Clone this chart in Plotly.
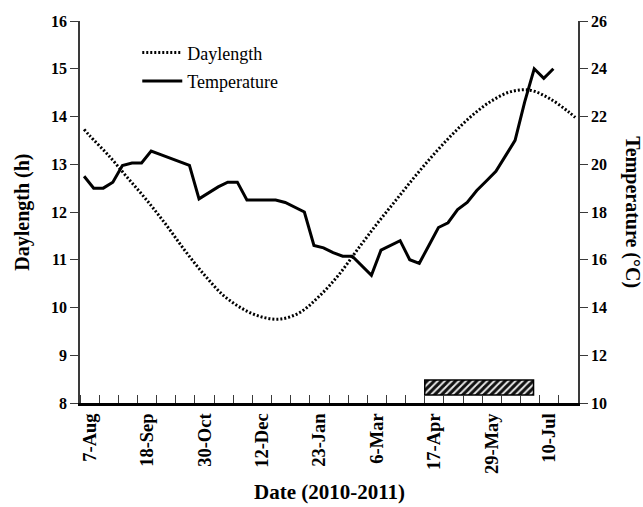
import plotly.graph_objects as go
import pandas as pd

# ---------------- data ----------------
origin = pd.Timestamp("2010-08-07")

tick_labels = ["7-Aug", "18-Sep", "30-Oct", "12-Dec", "23-Jan", "6-Mar", "17-Apr", "29-May", "10-Jul"]
tick_days = [0, 42, 84, 126, 168, 210, 252, 294, 336]

# weekly temperature (deg C)
temp_dates = pd.date_range("2010-08-03", periods=50, freq="7D")
temperature = [19.5, 19.0, 19.0, 19.25, 19.95, 20.05, 20.05, 20.55, 20.4, 20.25,
               20.1, 19.95, 18.55, 18.8, 19.05, 19.25, 19.25, 18.5, 18.5, 18.5,
               18.5, 18.4, 18.2, 18.0, 16.6, 16.5, 16.3, 16.15, 16.15, 15.75,
               15.35, 16.4, 16.6, 16.8, 16.0, 15.85, 16.6, 17.35, 17.55, 18.1,
               18.4, 18.9, 19.3, 19.7, 20.35, 21.0, 22.6, 24.0, 23.6, 24.0]

# daylength (h)
day_dates = ([pd.Timestamp("2010-08-03")] + list(pd.date_range("2010-08-07", periods=26, freq="14D"))
             + [pd.Timestamp("2011-07-28")])
daylength = [13.73, 13.6, 13.18, 12.71, 12.24, 11.73, 11.18, 10.68, 10.25, 9.97,
             9.80, 9.76, 9.90, 10.24, 10.68, 11.22, 11.75, 12.25, 12.75, 13.22,
             13.65, 14.03, 14.33, 14.52, 14.55, 14.38, 14.10, 13.98]

# hatched period (dates)
hatch_start = pd.Timestamp("2011-04-09")
hatch_end = pd.Timestamp("2011-06-27 12:00")
hatch_low, hatch_high = 8.17, 8.48

# ---------------- helpers ----------------
def to_days(ts):
    return [(t - origin) / pd.Timedelta(days=1) for t in ts]

temp_x = to_days(temp_dates)
day_x = to_days(day_dates)
hs, he = to_days([hatch_start, hatch_end])

FONT = "Liberation Serif"
fig = go.Figure()

fig.add_trace(go.Scatter(
    x=day_x, y=daylength, name="Daylength", mode="lines", line_shape="spline",
    line=dict(color="black", width=3, dash="2px,2px"), yaxis="y", legendgroup="a"))

fig.add_trace(go.Scatter(
    x=temp_x, y=temperature, name="Temperature", mode="lines",
    line=dict(color="black", width=3), yaxis="y2", legendgroup="b"))

fig.add_trace(go.Bar(
    x=[(hs + he) / 2], y=[hatch_high - hatch_low], base=[hatch_low], width=[he - hs],
    yaxis="y", showlegend=False,
    marker=dict(color="#555555", line=dict(color="black", width=1.5),
                pattern=dict(shape="/", fgcolor="#111111", bgcolor="#e8e8e8", size=5, solidity=0.6,
                             fillmode="replace"))))

axis_line = "#3a3a3a"
tickfont = dict(family=FONT, size=16, color="black", weight="bold")

fig.update_layout(
    width=643, height=507,
    margin=dict(l=80, r=65, t=21, b=104),
    plot_bgcolor="white", paper_bgcolor="white",
    showlegend=True,
    legend=dict(x=0.115, y=0.965, xanchor="left", yanchor="top",
                font=dict(family=FONT, size=18, color="black"),
                bgcolor="rgba(0,0,0,0)", tracegroupgap=2, itemwidth=40),
    xaxis=dict(range=[-7, 357], tickmode="array", tickvals=tick_days, ticktext=tick_labels,
               tickangle=-90, ticks="", showgrid=False, zeroline=False,
               showline=True, linecolor="black", linewidth=3,
               tickfont=dict(family=FONT, size=18.5, color="black", weight="bold"),
               minor=dict(ticks="inside", tickmode="linear", tick0=-7, dtick=14,
                          ticklen=8, tickwidth=1.3, tickcolor=axis_line, showgrid=False)),
    yaxis=dict(range=[8, 16], tickmode="linear", tick0=8, dtick=1, ticks="outside",
               ticklen=8, tickwidth=1.3, tickcolor=axis_line, showgrid=False, zeroline=False,
               showline=True, linecolor=axis_line, linewidth=1.5, tickfont=tickfont),
    yaxis2=dict(range=[10, 26], tickmode="linear", tick0=10, dtick=2, ticks="outside",
                ticklen=8, tickwidth=1.3, tickcolor=axis_line, showgrid=False, zeroline=False,
                showline=True, linecolor=axis_line, linewidth=1.5, tickfont=tickfont,
                overlaying="y", side="right", anchor="x"),
    yaxis3=dict(range=[8, 16], tickmode="linear", tick0=8, dtick=1, ticks="inside",
                ticklen=8, tickwidth=1.3, tickcolor=axis_line, showticklabels=False,
                showgrid=False, zeroline=False, showline=False, overlaying="y", side="left",
                minor=dict(ticks="inside", dtick=0.5, ticklen=5, tickwidth=1.3, tickcolor=axis_line)),
    yaxis4=dict(range=[10, 26], tickmode="linear", tick0=10, dtick=2, ticks="inside",
                ticklen=8, tickwidth=1.3, tickcolor=axis_line, showticklabels=False,
                showgrid=False, zeroline=False, showline=False, overlaying="y", side="right",
                anchor="x",
                minor=dict(ticks="inside", dtick=1, ticklen=5, tickwidth=1.3, tickcolor=axis_line)),
    annotations=[
        dict(text="<b>Date (2010-2011)</b>", xref="paper", yref="paper", x=0.5, y=-0.232,
             xanchor="center", yanchor="middle", showarrow=False,
             font=dict(family=FONT, size=21, color="black")),
        dict(text="<b>Daylength (h)</b>", xref="paper", yref="paper", x=-0.117, y=0.5,
             xanchor="center", yanchor="middle", showarrow=False, textangle=-90,
             font=dict(family=FONT, size=20, color="black")),
        dict(text="<b>Temperature (°C)</b>", xref="paper", yref="paper", x=1.11, y=0.5,
             xanchor="center", yanchor="middle", showarrow=False, textangle=90,
             font=dict(family=FONT, size=20, color="black")),
    ],
)

fig.write_html("out.html")
